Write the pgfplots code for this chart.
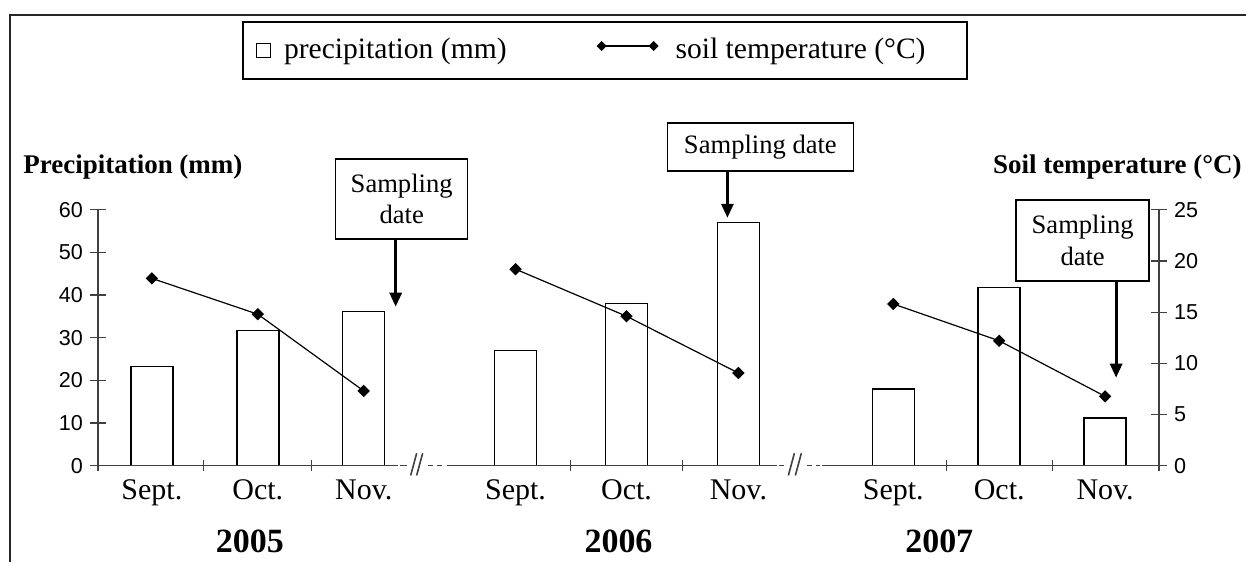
\documentclass[border=0pt]{standalone}
\usepackage{fontspec}
\setmainfont{Liberation Serif}
\setsansfont{Liberation Sans}
\usepackage{pgfplots}
\pgfplotsset{compat=1.18}
\usetikzlibrary{arrows.meta}
\newcommand\tickfont{\sffamily\fontsize{10.8}{12.5}\selectfont}
\newcommand\catfont{\fontsize{15}{18}\selectfont}
\newcommand\legfont{\fontsize{14.8}{17}\selectfont}
\newcommand\boxfont{\fontsize{13.3}{15.9}\selectfont}
\newcommand\titlefont{\bfseries\fontsize{13.5}{16}\selectfont}
\newcommand\yearfont{\bfseries\fontsize{17}{20}\selectfont}
\DeclareRobustCommand\degC{\char"00B0 C}
\pgfplotsset{
  templeg/.style={legend image code/.code={%
    \draw[black, line width=0.6pt, mark=square*, mark size=1.45pt, mark options={solid, fill=black, rotate=45}] plot coordinates {(2pt,2.2pt) (28pt,2.2pt)};
    \path (36.5pt,2.2pt);}},
  precleg/.style={legend image code/.code={%
    \draw[black, line width=0.5pt, fill=white] (0pt,-3.5pt) rectangle (7pt,3.5pt);
    \path (11.5pt,0pt);}},
  tempstyle/.style={black, line width=0.6pt, mark=square*, mark size=1.9pt,
    mark options={solid, fill=black, draw=black, rotate=45}},
}
\begin{document}
\begin{tikzpicture}[axl/.style={draw=black!75, line width=0.6pt}]
\begin{axis}[
  x=0.5pt, y=2.133333pt,
  xmin=98, xmax=1160, ymin=0, ymax=60,
  clip=false,
  axis y line*=left, axis x line*=bottom,
  x axis line style={draw=none},
  y axis line style={draw=black!75, line width=0.6pt},
  tick align=center, major tick length=8pt,
  ytick={0,10,20,30,40,50,60},
  ytick style={draw=black!75, line width=0.6pt},
  yticklabel style={font=\tickfont},
  xtick={152,258,364,516,627,739,894,1000,1106},
  xticklabels={Sept.,Oct.,Nov.,Sept.,Oct.,Nov.,Sept.,Oct.,Nov.},
  xtick style={draw=none},
  xticklabel style={font=\catfont, anchor=base, yshift=-13pt},
  /pgf/number format/assume math mode=true,
  legend columns=2,
  legend cell align=left,
  legend style={at={(axis cs:242,104.3)}, anchor=north west, draw=black, line width=1pt,
    font=\legfont, inner xsep=6.5pt, inner ysep=6pt,
    nodes={inner sep=2pt, text depth=0.22em},
    /tikz/every even column/.append style={column sep=43.5pt}},
]
\addplot[ybar, bar width=21pt, draw=black, fill=white, line width=0.75pt, precleg]
  coordinates {(152,23.3) (258,31.7) (364,36.2) (516,27.0) (627,38.0) (739,57.0) (894,18.0) (1000,41.8) (1106,11.2)};
\addlegendentry{precipitation (mm)}
\addlegendimage{templeg}
\addlegendentry{soil temperature (\degC)\hspace*{12pt}}
% frame and bounding box
\path (axis cs:0,-22.5) rectangle (axis cs:1247,109.22);
\draw[line width=1pt, black!85] (axis cs:10,-22.5) -- (axis cs:10,105.7) -- (axis cs:1247,105.7);
% x axis segments with breaks
\draw[axl] (axis cs:98,0) -- (axis cs:398,0);
\draw[axl] (axis cs:400,0) -- (axis cs:407,0);
\draw[axl, line width=0.8pt] (axis cs:411,-2.3) -- (axis cs:417,2.9);
\draw[axl, line width=0.8pt] (axis cs:417,-2.3) -- (axis cs:423,2.9);
\draw[axl] (axis cs:428,0) -- (axis cs:433,0);
\draw[axl] (axis cs:437,0) -- (axis cs:442,0);
\draw[axl] (axis cs:447,0) -- (axis cs:778,0);
\draw[axl] (axis cs:780,0) -- (axis cs:785,0);
\draw[axl, line width=0.8pt] (axis cs:789,-2.3) -- (axis cs:795,2.9);
\draw[axl, line width=0.8pt] (axis cs:796,-2.3) -- (axis cs:802,2.9);
\draw[axl] (axis cs:808,0) -- (axis cs:813,0);
\draw[axl] (axis cs:817,0) -- (axis cs:821,0);
\draw[axl] (axis cs:823,0) -- (axis cs:1160,0);
\draw[axl] (axis cs:98,-1.29) -- (axis cs:98,1.29);
\draw[axl] (axis cs:204,-1.29) -- (axis cs:204,1.29);
\draw[axl] (axis cs:312,-1.29) -- (axis cs:312,1.29);
\draw[axl] (axis cs:571,-1.29) -- (axis cs:571,1.29);
\draw[axl] (axis cs:683,-1.29) -- (axis cs:683,1.29);
\draw[axl] (axis cs:947,-1.29) -- (axis cs:947,1.29);
\draw[axl] (axis cs:1053,-1.29) -- (axis cs:1053,1.29);
\draw[axl] (axis cs:1160,-1.29) -- (axis cs:1160,1.29);
% titles
\node[font=\titlefont, anchor=base west, inner sep=0pt] at (axis cs:23,68.44) {Precipitation (mm)};
\node[font=\titlefont, anchor=base east, inner sep=0pt] at (axis cs:1243,68.44) {Soil temperature (\degC)};
% years
\node[font=\yearfont, anchor=base, inner sep=0pt] at (axis cs:250,-20.39) {2005};
\node[font=\yearfont, anchor=base, inner sep=0pt] at (axis cs:619,-20.39) {2006};
\node[font=\yearfont, anchor=base, inner sep=0pt] at (axis cs:940,-20.39) {2007};
% sampling date callouts
\node[draw=black, line width=0.75pt, fill=white, font=\boxfont, align=center,
  minimum width=66pt, minimum height=40pt, inner sep=0pt] at (axis cs:402,62.58) {Sampling\\date};
\node[draw=black, line width=0.75pt, fill=white, font=\boxfont, align=center,
  minimum width=93pt, minimum height=24pt, inner sep=0pt] at (axis cs:761,74.77) {Sampling date};
\node[draw=black, line width=0.75pt, fill=white, font=\boxfont, align=center,
  minimum width=66.5pt, minimum height=40.5pt, inner sep=0pt] at (axis cs:1083.5,52.85) {Sampling\\date};
\draw[line width=1.5pt, -{Triangle[length=7pt,width=6pt]}] (axis cs:396,53.2) -- (axis cs:396,37.27);
\draw[line width=1.5pt, -{Triangle[length=7pt,width=6pt]}] (axis cs:728,69.14) -- (axis cs:728,58.13);
\draw[line width=1.5pt, -{Triangle[length=7pt,width=6pt]}] (axis cs:1117,43.36) -- (axis cs:1117,20.63);
\end{axis}
\begin{axis}[
  x=0.5pt, y=5.12pt,
  xmin=98, xmax=1160, ymin=0, ymax=25,
  clip=false,
  axis y line*=right, axis x line=none,
  xtick=\empty,
  ytick={0,5,10,15,20,25},
  tick align=center, major tick length=8pt,
  y axis line style={draw=black!75, line width=0.6pt},
  ytick style={draw=black!75, line width=0.6pt},
  yticklabel style={font=\tickfont},
  /pgf/number format/assume math mode=true,
]
\addplot[tempstyle] coordinates {(152,18.3) (258,14.8) (364,7.3)};
\addplot[tempstyle] coordinates {(516,19.2) (627,14.6) (739,9.05)};
\addplot[tempstyle] coordinates {(894,15.8) (1000,12.2) (1106,6.77)};
\end{axis}
\end{tikzpicture}
\end{document}
